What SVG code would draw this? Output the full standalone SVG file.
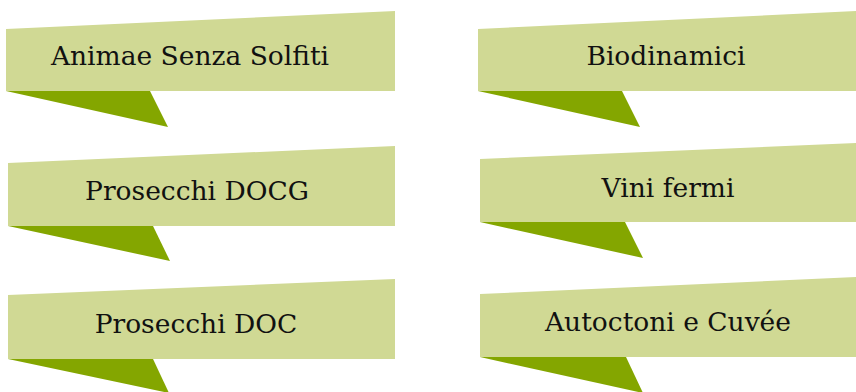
<svg xmlns="http://www.w3.org/2000/svg" width="856" height="392" viewBox="0 0 856 392">
<style>
.band{fill:#D0D994}
.tail{fill:#84A600}
.lbl{font-family:"DejaVu Serif","Liberation Serif",serif;font-size:26.5px;fill:#111;text-anchor:middle}
</style>
<rect width="856" height="392" fill="#fff"/>
<g id="n1">
<polygon class="tail" points="6,91 150,91 168,127"/>
<polygon class="band" points="6,29 395,11 395,91 6,91"/>
<text class="lbl" x="190" y="65">Animae Senza Solfiti</text>
</g>
<g id="n2">
<polygon class="tail" points="478,91 622,91 640,127"/>
<polygon class="band" points="478,29 856,11 856,91 478,91"/>
<text class="lbl" x="666" y="65">Biodinamici</text>
</g>
<g id="n3">
<polygon class="tail" points="8,226 153,226 170,261"/>
<polygon class="band" points="8,163 395,146 395,226 8,226"/>
<text class="lbl" x="197" y="200">Prosecchi DOCG</text>
</g>
<g id="n4">
<polygon class="tail" points="480,222 625,222 643,258"/>
<polygon class="band" points="480,159 856,143 856,222 480,222"/>
<text class="lbl" x="668" y="197">Vini fermi</text>
</g>
<g id="n5">
<polygon class="tail" points="8,359 153,359 169,393"/>
<polygon class="band" points="8,295 395,279 395,359 8,359"/>
<text class="lbl" x="196" y="333">Prosecchi DOC</text>
</g>
<g id="n6">
<polygon class="tail" points="480,357 626,357 643,393"/>
<polygon class="band" points="480,294 856,277 856,357 480,357"/>
<text class="lbl" x="668" y="331">Autoctoni e Cuvée</text>
</g>
<g id="connectors"></g>
</svg>
